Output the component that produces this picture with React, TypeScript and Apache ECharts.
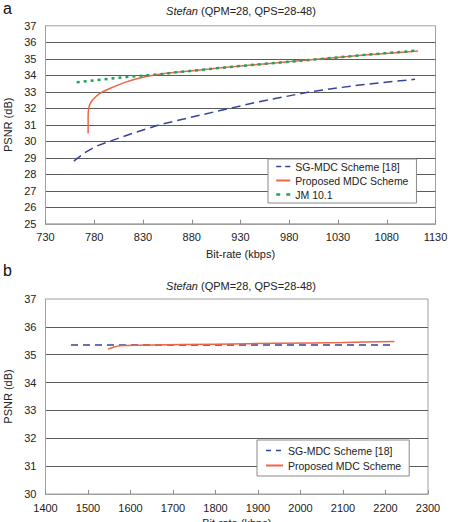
import React, { useEffect, useRef } from "react";
import * as echarts from "echarts";

const FONT = "'Liberation Sans', Arial, Helvetica, sans-serif";

const NAME_SG = "SG-MDC Scheme [18]";
const NAME_PROP = "Proposed MDC Scheme";
const NAME_JM = "JM 10.1";

// Panel a — Stefan, bit-rate (kbps) against PSNR (dB)
const sgRateA = [759, 770, 782, 796, 820, 847, 875, 908, 946, 1001, 1050, 1109];
const sgPsnrA = [28.8, 29.3, 29.7, 30.0, 30.5, 31.0, 31.4, 31.85, 32.36, 33.0, 33.4, 33.76];
const propRateA = [773.7, 773.7, 773.8, 774.3, 776, 779, 785.7, 796, 813, 830, 847, 864, 898, 922, 960, 1014, 1060, 1112];
const propPsnrA = [30.48, 31.2, 31.7, 32.0, 32.3, 32.55, 32.9, 33.2, 33.6, 33.88, 34.06, 34.18, 34.38, 34.52, 34.72, 35.0, 35.24, 35.47];
const jmRateA = [762, 790, 813, 830, 847, 864, 898, 922, 960, 1014, 1060, 1112];
const jmPsnrA = [33.58, 33.75, 33.9, 33.98, 34.06, 34.18, 34.38, 34.52, 34.72, 35.0, 35.25, 35.5];

// Panel b — Stefan at higher bit-rates
const sgRateB = [1460, 1600, 1800, 2000, 2215];
const sgPsnrB = [35.35, 35.35, 35.35, 35.35, 35.35];
const propRateB = [1547, 1560, 1575, 1650, 1800, 1950, 2100, 2221];
const propPsnrB = [35.2, 35.27, 35.32, 35.35, 35.38, 35.41, 35.44, 35.47];

const pairs = (xs: number[], ys: number[]) => xs.map((x, i) => [x, ys[i]]);

const BLUE = "#34449b";
const RED = "#ef6443";
const GREEN = "#22a25a";
const GRID_LINE = "#5c5c5c";
const BORDER = "#a0a0a0";
const TEXT = "#222";

// legend entries show only the line stroke, no marker
const NO_MARKER = { color: "rgba(0,0,0,0)", borderColor: "rgba(0,0,0,0)", borderWidth: 0, opacity: 0 };

function xAxis(gridIndex: number, min: number, max: number, interval: number, nameGap: number) {
  return {
    type: "value",
    gridIndex,
    min,
    max,
    interval,
    name: "Bit-rate (kbps)",
    nameLocation: "middle",
    nameGap,
    nameTextStyle: { fontFamily: FONT, fontSize: 11, color: TEXT },
    axisLine: { show: true, lineStyle: { color: BORDER, width: 1 } },
    axisTick: { show: true, inside: true, length: 4, lineStyle: { color: "#888" } },
    axisLabel: {
      fontFamily: FONT,
      fontSize: 11,
      color: TEXT,
      margin: 8,
      formatter: (v: number) => String(v),
    },
    splitLine: { show: false },
  };
}

function yAxis(gridIndex: number, min: number, max: number) {
  return {
    type: "value",
    gridIndex,
    min,
    max,
    interval: 1,
    name: "PSNR (dB)",
    nameLocation: "middle",
    nameGap: 27,
    nameTextStyle: { fontFamily: FONT, fontSize: 11, color: TEXT },
    axisLine: { show: true, lineStyle: { color: BORDER, width: 1 } },
    axisTick: { show: false },
    axisLabel: { fontFamily: FONT, fontSize: 11, color: TEXT, margin: 9 },
    splitLine: {
      show: true,
      showMinLine: false,
      showMaxLine: false,
      lineStyle: { color: GRID_LINE, width: 1 },
    },
  };
}

function titleText(x: number, y: number) {
  return {
    type: "text",
    x,
    y,
    style: {
      text: "{i|Stefan} (QPM=28, QPS=28-48)",
      fontFamily: FONT,
      fontSize: 11,
      fill: TEXT,
      align: "center",
      verticalAlign: "middle",
      rich: { i: { fontStyle: "italic", fontFamily: FONT, fontSize: 11, fill: TEXT } },
    },
  };
}

function panelLetter(letter: string, x: number, y: number) {
  return {
    type: "text",
    x,
    y,
    style: {
      text: letter,
      fontFamily: FONT,
      fontSize: 16,
      fill: "#111",
      align: "left",
      verticalAlign: "middle",
    },
  };
}

export default function App() {
  const ref = useRef<HTMLDivElement>(null);

  useEffect(() => {
    if (!ref.current) return;
    const chart = echarts.init(ref.current, undefined, { renderer: "svg" });

    const legendBase = {
      orient: "vertical",
      backgroundColor: "#fff",
      borderColor: "#8a8a8a",
      borderWidth: 1,
      borderRadius: 0,
      itemHeight: 11,
      itemStyle: NO_MARKER,
      textStyle: { fontFamily: FONT, fontSize: 10.5, color: TEXT },
    };

    const gridBase = {
      show: true,
      borderColor: BORDER,
      borderWidth: 1,
      containLabel: false,
      outerBoundsMode: "none",
    };

    chart.setOption({
      animation: false,
      backgroundColor: "#fff",
      grid: [
        { ...gridBase, left: 45.5, top: 25.8, width: 390, height: 198 },
        { ...gridBase, left: 45.5, top: 299, width: 382.5, height: 195 },
      ],
      xAxis: [xAxis(0, 730, 1130, 50, 25), xAxis(1, 1400, 2300, 100, 23)],
      yAxis: [yAxis(0, 25, 37), yAxis(1, 30, 37)],
      legend: [
        {
          ...legendBase,
          left: 268,
          top: 159,
          itemWidth: 14,
          itemGap: 3,
          itemTextGap: 8,
          padding: [2, 8, 3, 7],
          data: [
            { name: NAME_SG, itemStyle: NO_MARKER, lineStyle: { type: [5, 4], width: 1.5 } },
            { name: NAME_PROP, itemStyle: NO_MARKER },
            { name: NAME_JM, itemStyle: NO_MARKER, lineStyle: { type: [4, 6], width: 2.5 } },
          ],
        },
        {
          ...legendBase,
          left: 257,
          top: 440,
          itemWidth: 17,
          itemGap: 4,
          itemTextGap: 8,
          padding: [5, 8, 5, 8],
          data: [
            { name: NAME_SG, itemStyle: NO_MARKER, lineStyle: { type: [5, 5], width: 1.5 } },
            { name: NAME_PROP, itemStyle: NO_MARKER },
          ],
        },
      ],
      graphic: [
        panelLetter("a", 3, 8),
        titleText(241, 11),
        panelLetter("b", 3, 270),
        titleText(241, 286),
      ],
      series: [
        {
          name: NAME_SG,
          type: "line",
          xAxisIndex: 0,
          yAxisIndex: 0,
          symbol: "none",
          data: pairs(sgRateA, sgPsnrA),
          lineStyle: { color: BLUE, width: 1.5, type: [9, 5] },
          itemStyle: { color: BLUE },
          z: 3,
        },
        {
          name: NAME_PROP,
          type: "line",
          xAxisIndex: 0,
          yAxisIndex: 0,
          symbol: "none",
          smooth: 0.3,
          data: pairs(propRateA, propPsnrA),
          lineStyle: { color: RED, width: 1.5 },
          itemStyle: { color: RED },
          z: 3,
        },
        {
          name: NAME_JM,
          type: "line",
          xAxisIndex: 0,
          yAxisIndex: 0,
          symbol: "none",
          data: pairs(jmRateA, jmPsnrA),
          lineStyle: { color: GREEN, width: 2.5, type: [3, 4] },
          itemStyle: { color: GREEN },
          z: 4,
        },
        {
          name: NAME_SG,
          type: "line",
          xAxisIndex: 1,
          yAxisIndex: 1,
          symbol: "none",
          data: pairs(sgRateB, sgPsnrB),
          lineStyle: { color: BLUE, width: 1.5, type: [7, 5] },
          itemStyle: { color: BLUE },
          z: 3,
        },
        {
          name: NAME_PROP,
          type: "line",
          xAxisIndex: 1,
          yAxisIndex: 1,
          symbol: "none",
          smooth: 0.3,
          data: pairs(propRateB, propPsnrB),
          lineStyle: { color: RED, width: 1.5 },
          itemStyle: { color: RED },
          z: 3,
        },
      ],
    });

    return () => chart.dispose();
  }, []);

  return (
    <div
      ref={ref}
      style={{ position: "absolute", left: 0, top: 0, width: 453, height: 522, background: "#fff" }}
    />
  );
}
